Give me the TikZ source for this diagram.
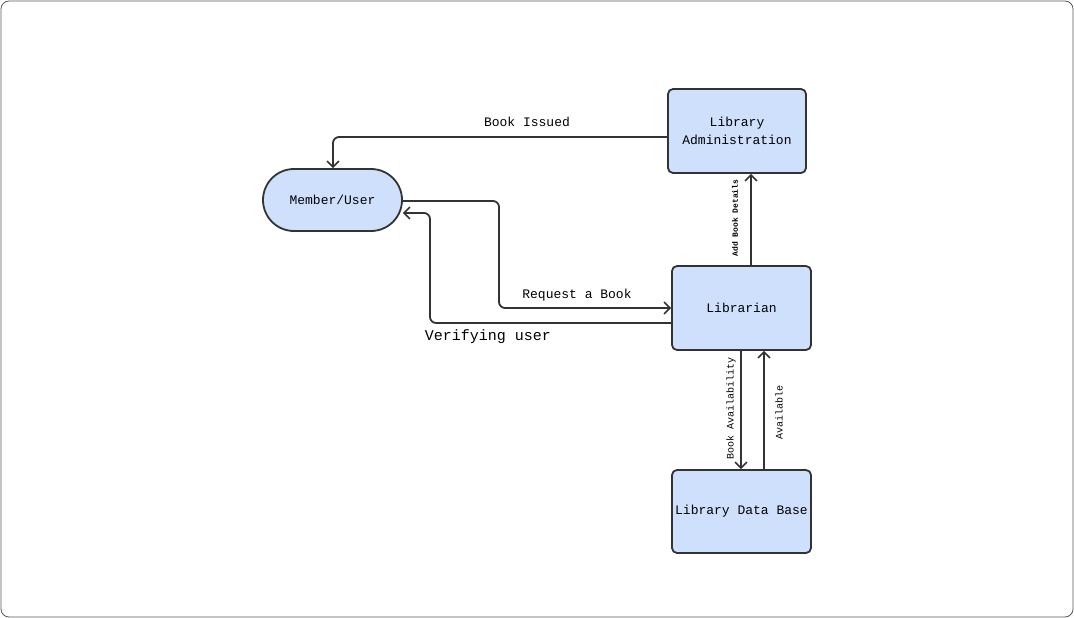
\documentclass[tikz,border=0pt]{standalone}
\usepackage{fontspec}
\setmainfont{Liberation Mono}
\usetikzlibrary{arrows.meta}
\definecolor{boxfill}{HTML}{CFE0FD}
\definecolor{boxline}{HTML}{333333}
\begin{document}
\begin{tikzpicture}[x=1pt,y=-1pt,
  every node/.style={font=\fontsize{13}{18}\selectfont},
  entity/.style={draw=boxline,fill=boxfill,line width=1.8pt,rounded corners=5pt,minimum width=138pt,minimum height=84pt,align=center,inner sep=0pt},
  flow/.style={draw=boxline,line width=1.8pt,rounded corners=6pt,-{Straight Barb[length=6pt,width=12pt,line width=1.5pt]}},
  vlabel/.style={rotate=90,inner sep=0pt}]
  \useasboundingbox (0,0) rectangle (1074,618);
  \draw[gray!70!black,line width=0.8pt,rounded corners=8pt] (1,1) rectangle (1073,617);
  \node[entity] (admin) at (737,131) {Library\\Administration};
  \node[entity,rounded corners=31pt,minimum width=139pt,minimum height=62pt] (member) at (332.5,200) {Member/User};
  \node[entity,minimum width=139pt] (librarian) at (741.5,308) {Librarian};
  \node[entity,minimum width=139pt,minimum height=83pt] (database) at (741.5,511.5) {Library Data Base};
  % flows
  \draw[flow] (admin.west |- 0,137) -- (333,137) -- (member.north -| 333,0);
  \node (issued) at (527,122) {Book Issued};
  \draw[flow] (member.east |- 0,201) -- (499,201) -- (499,308) -- (librarian.west);
  \node (request) at (577,295) {Request a Book};
  \draw[flow] (librarian.west |- 0,323) -- (430,323) -- (430,213) -- (member.east |- 0,213);
  \node[font=\fontsize{15}{17}\selectfont] (verify) at (488,337) {Verifying user};
  \draw[flow] (librarian.north -| 751,0) -- (admin.south -| 751,0);
  \node[vlabel,font=\fontsize{8}{9}\selectfont\bfseries] (details) at (735,218) {Add Book Details};
  \draw[flow] (librarian.south -| 741,0) -- (database.north -| 741,0);
  \node[vlabel,font=\fontsize{10}{12}\selectfont] (avail) at (731,408) {Book Availability};
  \draw[flow] (database.north -| 764,0) -- (librarian.south -| 764,0);
  \node[vlabel,font=\fontsize{10}{12}\selectfont] (ok) at (779,412) {Available};
\end{tikzpicture}
\end{document}
